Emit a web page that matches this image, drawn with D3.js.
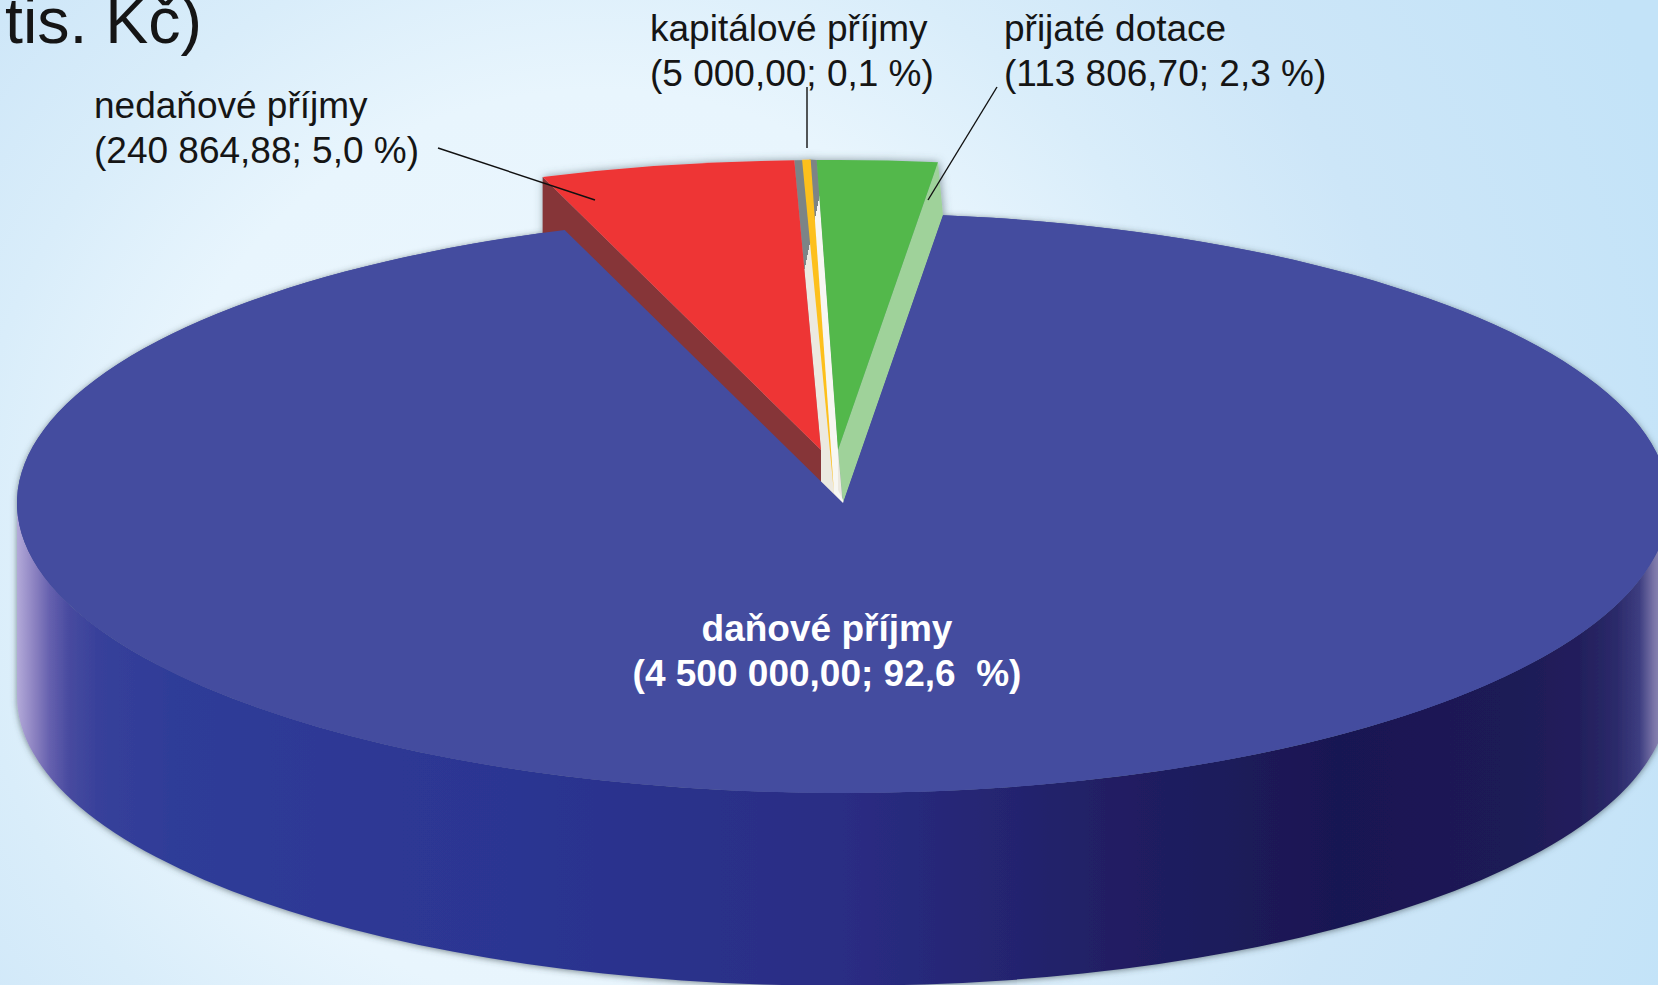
<!DOCTYPE html>
<html>
<head>
<meta charset="utf-8">
<script src="https://d3js.org/d3.v7.min.js"></script>
<style>
	html, body { margin: 0; padding: 0; overflow: hidden; }
	text { font-family: "Liberation Sans", Arial, sans-serif; white-space: pre; }
</style>
</head>
<body>
<svg id="chart" width="1658" height="985"></svg>
<script>
// Data
const categories = ["daňové příjmy", "nedaňové příjmy", "kapitálové příjmy", "přijaté dotace"];
const values = [4500000.00, 240864.88, 5000.00, 113806.70];
const valueLabels = ["(4 500 000,00; 92,6  %)", "(240 864,88; 5,0 %)", "(5 000,00; 0,1 %)", "(113 806,70; 2,3 %)"];
const titleFragment = "tis. Kč)";

const svg = d3.select("#chart"),
	width = +svg.attr("width"),
	height = +svg.attr("height");

// Pie geometry
const cx = 843, cy = 503, rx = 826, ry = 290, depth = 193;
const ratio = ry / rx;
const startAngle = 6.95 * Math.PI / 180;

const pie = d3.pie().sort(null).startAngle(startAngle).endAngle(startAngle + 2 * Math.PI);
const slices = pie(values);
const main = slices[0], red = slices[1], yellow = slices[2], green = slices[3];

// Exploded slices are moved away from the centre
const redOff = { x: -22, y: -53 };
const greenOff = { x: -5, y: -53 };
const yellowOff = { x: -9, y: -10 };
const yellowStretch = 1.15;

const arc = d3.arc().innerRadius(0).outerRadius(rx);
const polygon = d3.line();

// Point on the rim for an angle, with a slice offset
function rim(angle, off) {
	return [cx + off.x + rx * Math.sin(angle), cy + off.y - ry * Math.cos(angle)];
}
function apex(off) {
	return [cx + off.x, cy + off.y];
}
function shift(p, dx, dy) {
	return [p[0] + dx, p[1] + dy];
}

const defs = svg.append("defs");

// Background
const bg = defs.append("radialGradient")
	.attr("id", "bg")
	.attr("gradientUnits", "userSpaceOnUse")
	.attr("cx", 600).attr("cy", 550).attr("r", 1150);
bg.selectAll("stop")
	.data([[0, "#ecf7fe"], [0.4, "#e8f5fd"], [0.55, "#d9edfa"], [0.72, "#cde6f8"], [1, "#c3e3f8"]])
	.join("stop")
	.attr("offset", d => d[0])
	.attr("stop-color", d => d[1]);

// Rim of the disc
const wall = defs.append("linearGradient")
	.attr("id", "wall")
	.attr("gradientUnits", "userSpaceOnUse")
	.attr("x1", cx - rx).attr("x2", cx + rx).attr("y1", 0).attr("y2", 0);
wall.selectAll("stop")
	.data([
		[0, "#b3aad9"], [0.011, "#8a80c0"], [0.02, "#6560ae"], [0.032, "#474a9f"], [0.05, "#37409a"], [0.093, "#2f3c98"],
		[0.3, "#2c3592"], [0.5, "#2a2d84"], [0.66, "#211f64"], [0.8, "#191752"], [0.9, "#1c1a56"],
		[0.946, "#231f5c"], [0.968, "#2b2a6a"], [0.982, "#3d3d80"], [0.991, "#7a75a8"], [1, "#a09bc0"]
	])
	.join("stop")
	.attr("offset", d => d[0])
	.attr("stop-color", d => d[1]);

// Gap between the exploded slices, shaded at the top
function gapGradient(id, color) {
	const g = defs.append("linearGradient")
		.attr("id", id)
		.attr("gradientUnits", "userSpaceOnUse")
		.attr("x1", 805 - 98).attr("y1", 267 - 20)
		.attr("x2", 805 + 98).attr("y2", 267 + 20);
	g.selectAll("stop")
		.data([[0, "#7b8486"], [0.5, "#7b8486"], [0.5, color], [1, color]])
		.join("stop")
		.attr("offset", d => d[0])
		.attr("stop-color", d => d[1]);
}
gapGradient("gapBeige", "#ece9e0");
gapGradient("gapWhite", "#f7f7f3");

// Soft shadows
const soft = defs.append("filter").attr("id", "soft")
	.attr("x", "-5%").attr("y", "-5%").attr("width", "110%").attr("height", "110%");
soft.append("feDropShadow")
	.attr("dx", 0).attr("dy", 1).attr("stdDeviation", 3)
	.attr("flood-color", "#3a4a50").attr("flood-opacity", 0.65);

const softWedge = defs.append("filter").attr("id", "softWedge")
	.attr("x", "-20%").attr("y", "-20%").attr("width", "140%").attr("height", "140%");
softWedge.append("feDropShadow")
	.attr("dx", 1).attr("dy", 0).attr("stdDeviation", 4)
	.attr("flood-color", "#4a5a62").attr("flood-opacity", 0.6);

svg.append("rect")
	.attr("width", width).attr("height", height)
	.attr("fill", "url(#bg)");

// Rim and a backing ellipse of the main slice, so the shadow follows the whole disc
const disc = svg.append("g").attr("filter", "url(#soft)");
disc.append("path")
	.attr("fill", "url(#wall)")
	.attr("d", `M${cx - rx},${cy} A${rx},${ry} 0 0 0 ${cx + rx},${cy} L${cx + rx},${cy + depth} A${rx},${ry} 0 0 1 ${cx - rx},${cy + depth} Z`);
disc.append("path")
	.attr("transform", `translate(${cx},${cy}) scale(1,${ratio})`)
	.attr("fill", "#444c9f")
	.attr("d", arc(main));

// Exploded slices, lower parts get covered by the main slice
const wedges = svg.append("g").attr("filter", "url(#softWedge)");

const redCornerL = rim(red.startAngle, redOff),
	redCornerR = rim(red.endAngle, redOff),
	redApex = apex(redOff),
	greenCornerL = rim(green.startAngle, greenOff),
	greenCornerR = rim(green.endAngle, greenOff),
	greenApex = apex(greenOff);

// Side walls
wedges.append("path")
	.attr("fill", "#863537")
	.attr("d", polygon([redCornerL, redApex, shift(redApex, 0, 60), shift(redCornerL, 0, 60)]) + "Z");
wedges.append("path")
	.attr("fill", "#9fd29a")
	.attr("d", polygon([greenCornerR, greenApex, apex({ x: 0, y: 0 }), shift(greenCornerR, -greenOff.x, -greenOff.y)]) + "Z");

// Gap behind the small slice
wedges.append("path")
	.attr("fill", "url(#gapBeige)")
	.attr("d", polygon([redCornerR, redApex, shift(redApex, 0, 40), apex({ x: 0, y: 5 }), greenApex, greenCornerL]) + "Z");
const yellowApex = [cx + yellowOff.x, cy + yellowOff.y];
wedges.append("path")
	.attr("fill", "url(#gapWhite)")
	.attr("d", polygon([
		[yellowApex[0] + rx * yellowStretch * Math.sin(yellow.endAngle), yellowApex[1] - ry * yellowStretch * Math.cos(yellow.endAngle)],
		yellowApex, apex({ x: 4, y: 5 }), shift(greenApex, 0, 40), greenApex, greenCornerL
	]) + "Z");

// Tops of the exploded slices
wedges.append("path")
	.attr("transform", `translate(${cx + redOff.x},${cy + redOff.y}) scale(1,${ratio})`)
	.attr("fill", "#ee3536")
	.attr("d", arc(red));
wedges.append("path")
	.attr("transform", `translate(${cx + greenOff.x},${cy + greenOff.y}) scale(1,${ratio})`)
	.attr("fill", "#52b84b")
	.attr("d", arc(green));
wedges.append("path")
	.attr("transform", `translate(${yellowApex[0]},${yellowApex[1]}) scale(1,${ratio})`)
	.attr("fill", "#fdc01c")
	.attr("d", d3.arc().innerRadius(0).outerRadius(rx * yellowStretch)({
		startAngle: yellow.startAngle - 0.0013,
		endAngle: yellow.endAngle + 0.0013
	}));

// Top of the main slice
svg.append("path")
	.attr("transform", `translate(${cx},${cy}) scale(1,${ratio})`)
	.attr("fill", "#444c9f")
	.attr("d", arc(main));

// Leader lines
const leaders = [
	[[438, 148], [595, 200]],
	[[807, 87], [807, 148]],
	[[997, 87], [928, 200]]
];
svg.append("g").selectAll("path")
	.data(leaders)
	.join("path")
	.attr("fill", "none")
	.attr("stroke", "#111")
	.attr("stroke-width", 1.4)
	.attr("d", d => polygon(d));

// Labels
const labelPos = [
	{ x: 827, y: 641, anchor: "middle", fill: "#fff", weight: "bold" },
	{ x: 94, y: 118, anchor: "start", fill: "#151515", weight: "normal" },
	{ x: 650, y: 41, anchor: "start", fill: "#151515", weight: "normal" },
	{ x: 1004, y: 41, anchor: "start", fill: "#151515", weight: "normal" }
];
const labels = svg.append("g").selectAll("text")
	.data(categories)
	.join("text")
	.attr("text-anchor", (d, i) => labelPos[i].anchor)
	.attr("fill", (d, i) => labelPos[i].fill)
	.attr("font-weight", (d, i) => labelPos[i].weight)
	.attr("font-size", 37);
labels.append("tspan")
	.attr("x", (d, i) => labelPos[i].x)
	.attr("y", (d, i) => labelPos[i].y)
	.text(d => d);
labels.append("tspan")
	.attr("x", (d, i) => labelPos[i].x)
	.attr("y", (d, i) => labelPos[i].y + 44.5)
	.text((d, i) => valueLabels[i]);

// Title, cut off by the top of the page
svg.append("text")
	.attr("x", 5).attr("y", 43)
	.attr("fill", "#151515")
	.attr("font-size", 64.5)
	.text(titleFragment);
</script>
</body>
</html>
